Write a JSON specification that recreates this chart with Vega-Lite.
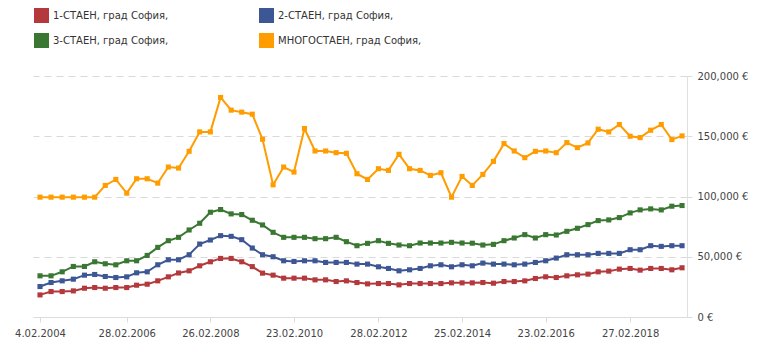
{
  "$schema": "https://vega.github.io/schema/vega-lite/v6.json",
  "width": 654,
  "height": 241,
  "autosize": {"type": "none"},
  "padding": {"left": 33, "top": 76, "right": 81, "bottom": 34},
  "background": "white",
  "config": {"view": {"stroke": null}, "font": "DejaVu Sans"},
  "data": {"values": [
    {"d": "2004-02-04", "a": 18333, "b": 25278, "c": 34167, "m": 99444},
    {"d": "2004-05-10", "a": 21111, "b": 28611, "c": 34167, "m": 99444},
    {"d": "2004-08-15", "a": 21111, "b": 30000, "c": 37500, "m": 99444},
    {"d": "2004-11-20", "a": 21667, "b": 31389, "c": 41944, "m": 99444},
    {"d": "2005-02-25", "a": 23889, "b": 34722, "c": 41944, "m": 99444},
    {"d": "2005-05-25", "a": 24444, "b": 35278, "c": 45833, "m": 99444},
    {"d": "2005-08-25", "a": 23889, "b": 33611, "c": 44167, "m": 109167},
    {"d": "2005-11-25", "a": 24444, "b": 32778, "c": 43333, "m": 114167},
    {"d": "2006-02-28", "a": 24444, "b": 33333, "c": 46667, "m": 102778},
    {"d": "2006-05-25", "a": 26389, "b": 36667, "c": 46667, "m": 114722},
    {"d": "2006-08-25", "a": 27222, "b": 37500, "c": 51111, "m": 114722},
    {"d": "2006-11-25", "a": 30000, "b": 43333, "c": 57778, "m": 111111},
    {"d": "2007-02-25", "a": 33333, "b": 47500, "c": 63333, "m": 124444},
    {"d": "2007-05-25", "a": 36528, "b": 47500, "c": 66111, "m": 123611},
    {"d": "2007-08-25", "a": 38333, "b": 51667, "c": 72222, "m": 137500},
    {"d": "2007-11-25", "a": 42500, "b": 60556, "c": 77778, "m": 153611},
    {"d": "2008-02-26", "a": 45833, "b": 63889, "c": 86944, "m": 153611},
    {"d": "2008-05-25", "a": 48611, "b": 67500, "c": 89167, "m": 182222},
    {"d": "2008-08-25", "a": 48611, "b": 66944, "c": 85556, "m": 171667},
    {"d": "2008-11-25", "a": 45833, "b": 64167, "c": 85000, "m": 170000},
    {"d": "2009-02-25", "a": 41806, "b": 57222, "c": 80278, "m": 168333},
    {"d": "2009-05-25", "a": 36389, "b": 51667, "c": 76389, "m": 147500},
    {"d": "2009-08-25", "a": 34722, "b": 50000, "c": 70278, "m": 109722},
    {"d": "2009-11-25", "a": 32222, "b": 46667, "c": 66111, "m": 124444},
    {"d": "2010-02-23", "a": 32222, "b": 46111, "c": 66111, "m": 120278},
    {"d": "2010-05-25", "a": 32222, "b": 46667, "c": 66111, "m": 156389},
    {"d": "2010-08-25", "a": 30833, "b": 46667, "c": 65000, "m": 137778},
    {"d": "2010-11-25", "a": 30833, "b": 45278, "c": 65000, "m": 137778},
    {"d": "2011-02-25", "a": 29444, "b": 45278, "c": 66111, "m": 136389},
    {"d": "2011-05-25", "a": 30000, "b": 45278, "c": 62500, "m": 135833},
    {"d": "2011-08-25", "a": 28611, "b": 43889, "c": 59167, "m": 118889},
    {"d": "2011-11-25", "a": 27500, "b": 43889, "c": 61111, "m": 114167},
    {"d": "2012-02-28", "a": 27778, "b": 41667, "c": 63333, "m": 123056},
    {"d": "2012-05-25", "a": 27778, "b": 40278, "c": 61111, "m": 121667},
    {"d": "2012-08-25", "a": 26667, "b": 38333, "c": 59722, "m": 135000},
    {"d": "2012-11-25", "a": 27778, "b": 39167, "c": 59167, "m": 123056},
    {"d": "2013-02-25", "a": 27778, "b": 40278, "c": 61389, "m": 121667},
    {"d": "2013-05-25", "a": 27778, "b": 42500, "c": 61389, "m": 117500},
    {"d": "2013-08-25", "a": 27778, "b": 43333, "c": 61389, "m": 119722},
    {"d": "2013-11-25", "a": 28333, "b": 41667, "c": 61944, "m": 99444},
    {"d": "2014-02-25", "a": 28333, "b": 43333, "c": 61389, "m": 116667},
    {"d": "2014-05-25", "a": 28333, "b": 42500, "c": 61250, "m": 109167},
    {"d": "2014-08-25", "a": 28611, "b": 44722, "c": 59722, "m": 118333},
    {"d": "2014-11-25", "a": 28056, "b": 43889, "c": 60278, "m": 129167},
    {"d": "2015-02-25", "a": 29444, "b": 43889, "c": 63333, "m": 143889},
    {"d": "2015-05-25", "a": 29444, "b": 43333, "c": 65556, "m": 137778},
    {"d": "2015-08-25", "a": 30000, "b": 43889, "c": 68333, "m": 132222},
    {"d": "2015-11-25", "a": 31944, "b": 45278, "c": 65556, "m": 137500},
    {"d": "2016-02-23", "a": 33333, "b": 46667, "c": 68333, "m": 137778},
    {"d": "2016-05-25", "a": 32778, "b": 48889, "c": 68056, "m": 136389},
    {"d": "2016-08-25", "a": 34167, "b": 51667, "c": 71111, "m": 144722},
    {"d": "2016-11-25", "a": 35000, "b": 51667, "c": 73611, "m": 140556},
    {"d": "2017-02-25", "a": 35556, "b": 51667, "c": 76667, "m": 144444},
    {"d": "2017-05-25", "a": 37500, "b": 52778, "c": 80000, "m": 155833},
    {"d": "2017-08-25", "a": 38056, "b": 52778, "c": 80556, "m": 153611},
    {"d": "2017-11-25", "a": 39722, "b": 52778, "c": 82500, "m": 159722},
    {"d": "2018-02-27", "a": 40278, "b": 55833, "c": 86389, "m": 150000},
    {"d": "2018-05-25", "a": 38889, "b": 55833, "c": 88889, "m": 148889},
    {"d": "2018-08-25", "a": 40278, "b": 59167, "c": 89722, "m": 155000},
    {"d": "2018-11-25", "a": 40278, "b": 58611, "c": 88889, "m": 159722},
    {"d": "2019-02-25", "a": 39167, "b": 59167, "c": 91944, "m": 147222},
    {"d": "2019-05-25", "a": 40833, "b": 59167, "c": 92500, "m": 150278}
  ]},
  "transform": [{"fold": ["a", "b", "c", "m"], "as": ["k", "v"]}],
  "mark": {"type": "line", "strokeWidth": 2, "point": {"shape": "square", "size": 26, "filled": true}},
  "encoding": {
    "x": {
      "field": "d", "type": "temporal",
      "scale": {"type": "utc", "domain": [{"year": 2003, "month": 12, "date": 5, "utc": true}, {"year": 2019, "month": 7, "date": 7, "utc": true}]},
      "axis": {
        "values": [
          {"year": 2004, "month": 2, "date": 4, "utc": true},
          {"year": 2006, "month": 2, "date": 28, "utc": true},
          {"year": 2008, "month": 2, "date": 26, "utc": true},
          {"year": 2010, "month": 2, "date": 23, "utc": true},
          {"year": 2012, "month": 2, "date": 28, "utc": true},
          {"year": 2014, "month": 2, "date": 25, "utc": true},
          {"year": 2016, "month": 2, "date": 23, "utc": true},
          {"year": 2018, "month": 2, "date": 27, "utc": true}
        ],
        "labelExpr": "utcFormat(datum.value, '%-d.%m.%Y')",
        "title": null, "grid": false,
        "domainColor": "#dcdcdc", "tickColor": "#dcdcdc", "tickSize": 5,
        "labelFont": "DejaVu Sans", "labelFontSize": 10, "labelColor": "#444", "labelPadding": 6
      }
    },
    "y": {
      "field": "v", "type": "quantitative",
      "scale": {"domain": [0, 200000]},
      "axis": {
        "orient": "right", "values": [0, 50000, 100000, 150000, 200000],
        "labelExpr": "format(datum.value, ',') + ' €'",
        "title": null, "grid": true, "gridDash": [7, 5], "gridColor": "#d9d9d9",
        "domainColor": "#e0e0e0", "tickColor": "#dcdcdc", "tickSize": 5,
        "labelPadding": 5, "labelFont": "DejaVu Sans", "labelFontSize": 10, "labelColor": "#444"
      }
    },
    "color": {
      "field": "k", "type": "nominal",
      "scale": {"domain": ["a", "b", "c", "m"], "range": ["#b3393c", "#3d5694", "#3a7733", "#ff9c00"]},
      "legend": {
        "orient": "none", "direction": "horizontal", "legendX": 1, "legendY": -68, "columns": 2, "columnPadding": 90, "rowPadding": 10,
        "symbolType": "square", "symbolSize": 225, "symbolStrokeWidth": 0, "symbolOpacity": 1,
        "labelFont": "DejaVu Sans", "labelFontSize": 10, "labelColor": "#333", "labelOffset": 4, "title": null,
        "labelExpr": "datum.label == 'a' ? '1-СТАЕН, град София,' : datum.label == 'b' ? '2-СТАЕН, град София,' : datum.label == 'c' ? '3-СТАЕН, град София,' : 'МНОГОСТАЕН, град София,'",
        "encode": {"symbols": {"update": {"fill": {"scale": "color", "field": "value"}, "stroke": {"value": "transparent"}}}}
      }
    }
  }
}
